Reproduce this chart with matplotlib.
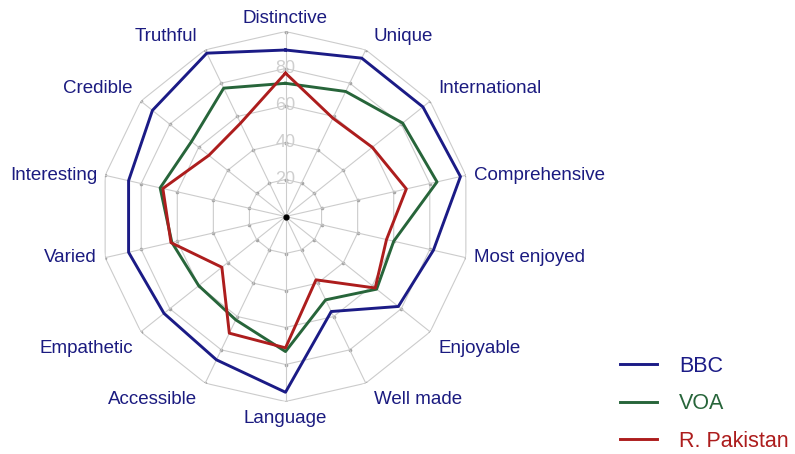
import matplotlib
matplotlib.use("Agg")
import matplotlib.pyplot as plt
import numpy as np

plt.rcParams['font.family'] = ['Liberation Sans', 'DejaVu Sans']

categories = ["Distinctive", "Unique", "International", "Comprehensive",
              "Most enjoyed", "Enjoyable", "Well made", "Language",
              "Accessible", "Empathetic", "Varied", "Interesting",
              "Credible", "Truthful"]
bbc = [90, 95, 95, 97, 82, 78, 57, 95, 86, 84, 87, 87, 92, 98]
voa = [72, 75, 81, 84, 60, 63, 50, 73, 62, 60, 63, 69.5, 65, 77]
rpak = [77.5, 59, 60, 67, 56, 62, 38, 71, 70, 44, 63.5, 68, 53, 56]
series_names = ["BBC", "VOA", "R. Pakistan"]
ring_levels = [20, 40, 60, 80, 100]
ring_labels = ["20", "40", "60", "80"]

colors = ["#1b1b86", "#27653a", "#ad1d1d"]
label_col = "#1b1b80"
grid_col = "#cccccc"

n = len(categories)
theta = np.arange(n) * 2 * np.pi / n
theta_c = np.append(theta, theta[0])

fig = plt.figure(figsize=(7.95, 4.54), dpi=100)
ax = fig.add_axes([100.5 / 795, 52.5 / 454, 370 / 795, 370 / 454], projection="polar")
ax.set_theta_offset(np.pi / 2)
ax.set_theta_direction(-1)
ax.set_ylim(0, 100)
ax.set_axis_off()

# web grid
for r in ring_levels:
    ax.plot(theta_c, [r] * (n + 1), color=grid_col, lw=0.8, zorder=1,
            marker="o", ms=2.6, mfc="#a5a5a5", mec="none")
for t in theta:
    ax.plot([t, t], [0, 100], color=grid_col, lw=0.8, zorder=1)
ax.plot([0], [0], "o", color="black", ms=3.5, zorder=2)

for r, lab in zip(ring_levels, ring_labels):
    ax.text(0, r, lab, ha="center", va="center", color="#cfcfcf",
            fontsize=13, zorder=2)

# category labels
off = 5.8
for t, lab in zip(theta, categories):
    s, c = np.sin(t), np.cos(t)
    if abs(s) < 0.1:
        ha, dx = "center", 0
    elif s > 0:
        ha, dx = "left", off
    else:
        ha, dx = "right", -off
    if c > 0.5:
        va, dy = "bottom", 3.2
    elif c < -0.5:
        va, dy = "top", -off
    else:
        va, dy = "center", 0
    ax.annotate(lab, xy=(t, 100), xytext=(dx, dy), textcoords="offset points",
                ha=ha, va=va, color=label_col, fontsize=13.5)

for vals, name, col in zip([bbc, voa, rpak], series_names, colors):
    ax.plot(theta_c, vals + vals[:1], color=col, lw=2.1, zorder=3, label=name)

fig.legend(loc="upper left", bbox_to_anchor=(620 / 795, 1 - 356 / 454),
           frameon=False, fontsize=15.5, handlelength=1.7, handletextpad=1.05,
           labelspacing=0.76, labelcolor="linecolor", borderaxespad=0,
           borderpad=0)

fig.savefig("out.png", dpi=100)
